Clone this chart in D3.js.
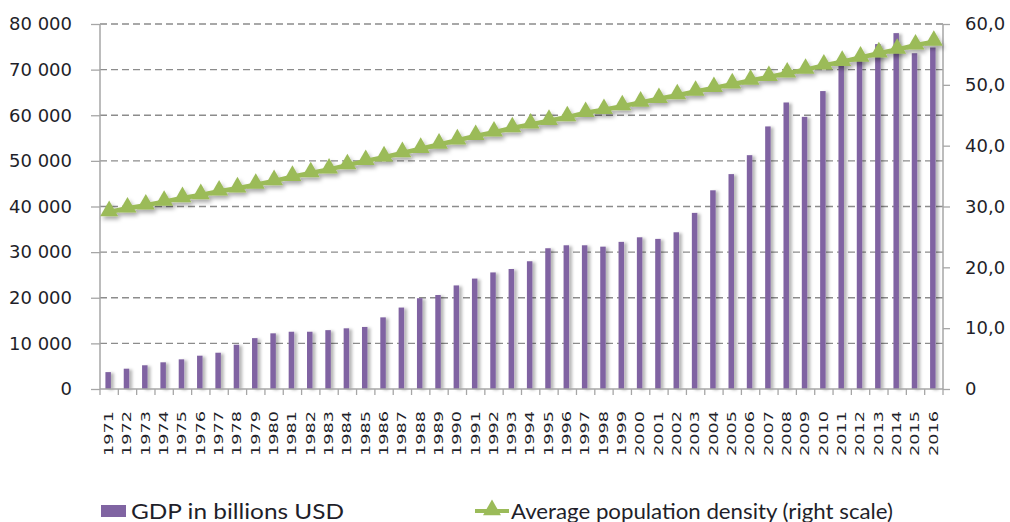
<!DOCTYPE html>
<html>
<head>
<meta charset="utf-8">
<script src="https://cdn.jsdelivr.net/npm/d3@7"></script>
<style>
  body { margin: 0; background: #fff; }
  svg { display: block; }
</style>
</head>
<body>
<script>
// Data
var years = d3.range(1971, 2017).map(String);

var gdp = [3700, 4450, 5200, 5850, 6500, 7300, 7950, 9700, 11150, 12200,
           12550, 12550, 12900, 13300, 13600, 15700, 17850, 19900, 20600, 22700,
           24200, 25550, 26300, 28000, 30850, 31500, 31500, 31200, 32250, 33250,
           32900, 34350, 38600, 43550, 47100, 51250, 57550, 62800, 59650, 65300,
           70800, 72000, 75600, 78000, 73600, 74850];

var density = [29.1, 29.7, 30.2, 30.8, 31.4, 31.9, 32.5, 33.0, 33.6, 34.2,
               34.9, 35.5, 36.1, 36.8, 37.5, 38.1, 38.8, 39.5, 40.2, 40.9,
               41.6, 42.2, 42.9, 43.5, 44.1, 44.7, 45.4, 45.9, 46.5, 47.1,
               47.7, 48.3, 48.9, 49.5, 50.1, 50.7, 51.3, 51.9, 52.5, 53.2,
               53.8, 54.5, 55.2, 55.8, 56.5, 57.1];

var leftTicks = [0, 10000, 20000, 30000, 40000, 50000, 60000, 70000, 80000];
var rightTicks = [0, 10, 20, 30, 40, 50, 60];

var seriesNames = ["GDP in billions USD", "Average population density (right scale)"];

var W = 1010, H = 522;
var margin = {top: 24, right: 67, bottom: 133, left: 100},
    width = W - margin.left - margin.right,
    height = H - margin.top - margin.bottom;

var purple = "#8064a2", green = "#9bbb59", axisGrey = "#a6a6a6", ink = "#1f1f2a";
var tickFont = "'DejaVu Sans', Verdana, sans-serif";
var legendFont = "Lato, 'Open Sans', sans-serif";

var x = d3.scaleBand().domain(years).range([0, width]),
    yL = d3.scaleLinear().domain([0, 80000]).range([height, 0]),
    yR = d3.scaleLinear().domain([0, 60]).range([height, 0]);

var svg = d3.select("body").append("svg")
    .attr("width", W)
    .attr("height", H);

var defs = svg.append("defs");
var barShadow = defs.append("filter").attr("id", "barShadow")
    .attr("x", "-50%").attr("y", "-5%").attr("width", "300%").attr("height", "110%");
barShadow.append("feDropShadow")
    .attr("dx", 3).attr("dy", 1).attr("stdDeviation", 1.8)
    .attr("flood-color", "#000").attr("flood-opacity", 0.28);

var lineShadow = defs.append("filter").attr("id", "lineShadow")
    .attr("x", "-5%").attr("y", "-20%").attr("width", "110%").attr("height", "140%");
lineShadow.append("feDropShadow")
    .attr("dx", 2).attr("dy", 3).attr("stdDeviation", 2)
    .attr("flood-color", "#000").attr("flood-opacity", 0.35);

var g = svg.append("g")
    .attr("transform", "translate(" + margin.left + "," + margin.top + ")");

// dashed gridlines
g.append("g").selectAll("line")
    .data(leftTicks.slice(1))
  .enter().append("line")
    .attr("x1", 0).attr("x2", width)
    .attr("y1", function(d) { return yL(d); })
    .attr("y2", function(d) { return yL(d); })
    .attr("stroke", "#8c8c8c")
    .attr("stroke-width", 1.3)
    .attr("stroke-dasharray", "7,4");

// bars
var bw = 5.5;
g.append("g").attr("filter", "url(#barShadow)").selectAll("rect")
    .data(gdp)
  .enter().append("rect")
    .attr("x", function(d, i) { return x(years[i]) + x.bandwidth() / 2 - bw / 2 - 1; })
    .attr("width", bw)
    .attr("y", function(d) { return yL(d); })
    .attr("height", function(d) { return height - yL(d); })
    .attr("fill", purple);

// left axis
var leftAxis = g.append("g")
    .call(d3.axisLeft(yL).tickValues(leftTicks).tickSize(9).tickPadding(19)
      .tickFormat(function(d) { return d3.format(",")(d).replace(/,/g, " "); }));

// right axis
var rightAxis = g.append("g")
    .attr("transform", "translate(" + width + ",0)")
    .call(d3.axisRight(yR).tickValues(rightTicks).tickSize(7).tickPadding(15)
      .tickFormat(function(d) { return d === 0 ? "0" : d3.format(".1f")(d).replace(".", ","); }));

[leftAxis, rightAxis].forEach(function(a) {
  a.select(".domain").attr("stroke", axisGrey).attr("stroke-width", 1.5)
    .attr("d", "M0," + height + "V0");
  a.selectAll(".tick line").attr("stroke", axisGrey).attr("stroke-width", 1.3);
  a.selectAll(".tick text")
    .style("font-family", tickFont)
    .style("font-size", "18px")
    .style("fill", ink);
});

// bottom axis (ticks on band edges)
var bottom = g.append("g").attr("transform", "translate(0," + height + ")");
bottom.append("line").attr("x1", 0).attr("x2", width).attr("stroke", axisGrey).attr("stroke-width", 1.5);
bottom.selectAll(".bt")
    .data(years.concat(["end"]))
  .enter().append("line")
    .attr("x1", function(d, i) { return i * x.step(); })
    .attr("x2", function(d, i) { return i * x.step(); })
    .attr("y1", 0).attr("y2", 6)
    .attr("stroke", axisGrey).attr("stroke-width", 1.3);
bottom.selectAll(".xl")
    .data(years)
  .enter().append("text")
    .attr("transform", function(d) {
      return "translate(" + (x(d) + x.bandwidth() / 2 - 0.5) + ",67) rotate(-90)";
    })
    .attr("text-anchor", "start")
    .attr("dy", "0.36em")
    .style("font-family", tickFont)
    .style("font-size", "12px")
    .style("fill", ink)
    .attr("textLength", 45)
    .attr("lengthAdjust", "spacingAndGlyphs")
    .text(function(d) { return d; });

// density line with triangle markers
var line = d3.line()
    .x(function(d, i) { return x(years[i]) + x.bandwidth() / 2; })
    .y(function(d) { return yR(d); });

var tri = d3.symbol().type(d3.symbolTriangle).size(140);

var lg = g.append("g").attr("filter", "url(#lineShadow)");
lg.append("path")
    .datum(density)
    .attr("d", line)
    .attr("fill", "none")
    .attr("stroke", green)
    .attr("stroke-width", 4.5);
lg.selectAll(".m")
    .data(density)
  .enter().append("path")
    .attr("d", tri)
    .attr("transform", function(d, i) {
      return "translate(" + (x(years[i]) + x.bandwidth() / 2) + "," + (yR(d) - 1) + ")";
    })
    .attr("fill", green);

// legend
var leg = svg.append("g");
leg.append("rect")
    .attr("x", 101).attr("y", 505).attr("width", 25).attr("height", 12)
    .attr("fill", purple);
leg.append("text")
    .attr("x", 131).attr("y", 519)
    .style("font-family", legendFont).style("font-size", "21px").style("fill", ink)
    .attr("textLength", 213).attr("lengthAdjust", "spacingAndGlyphs")
    .text(seriesNames[0]);

leg.append("line")
    .attr("x1", 475).attr("x2", 509).attr("y1", 511).attr("y2", 511)
    .attr("stroke", green).attr("stroke-width", 4);
leg.append("path")
    .attr("d", tri)
    .attr("transform", "translate(492,510)")
    .attr("fill", green);
leg.append("text")
    .attr("x", 511).attr("y", 519)
    .style("font-family", legendFont).style("font-size", "21px").style("fill", ink)
    .attr("textLength", 382).attr("lengthAdjust", "spacingAndGlyphs")
    .text(seriesNames[1]);
</script>
</body>
</html>
